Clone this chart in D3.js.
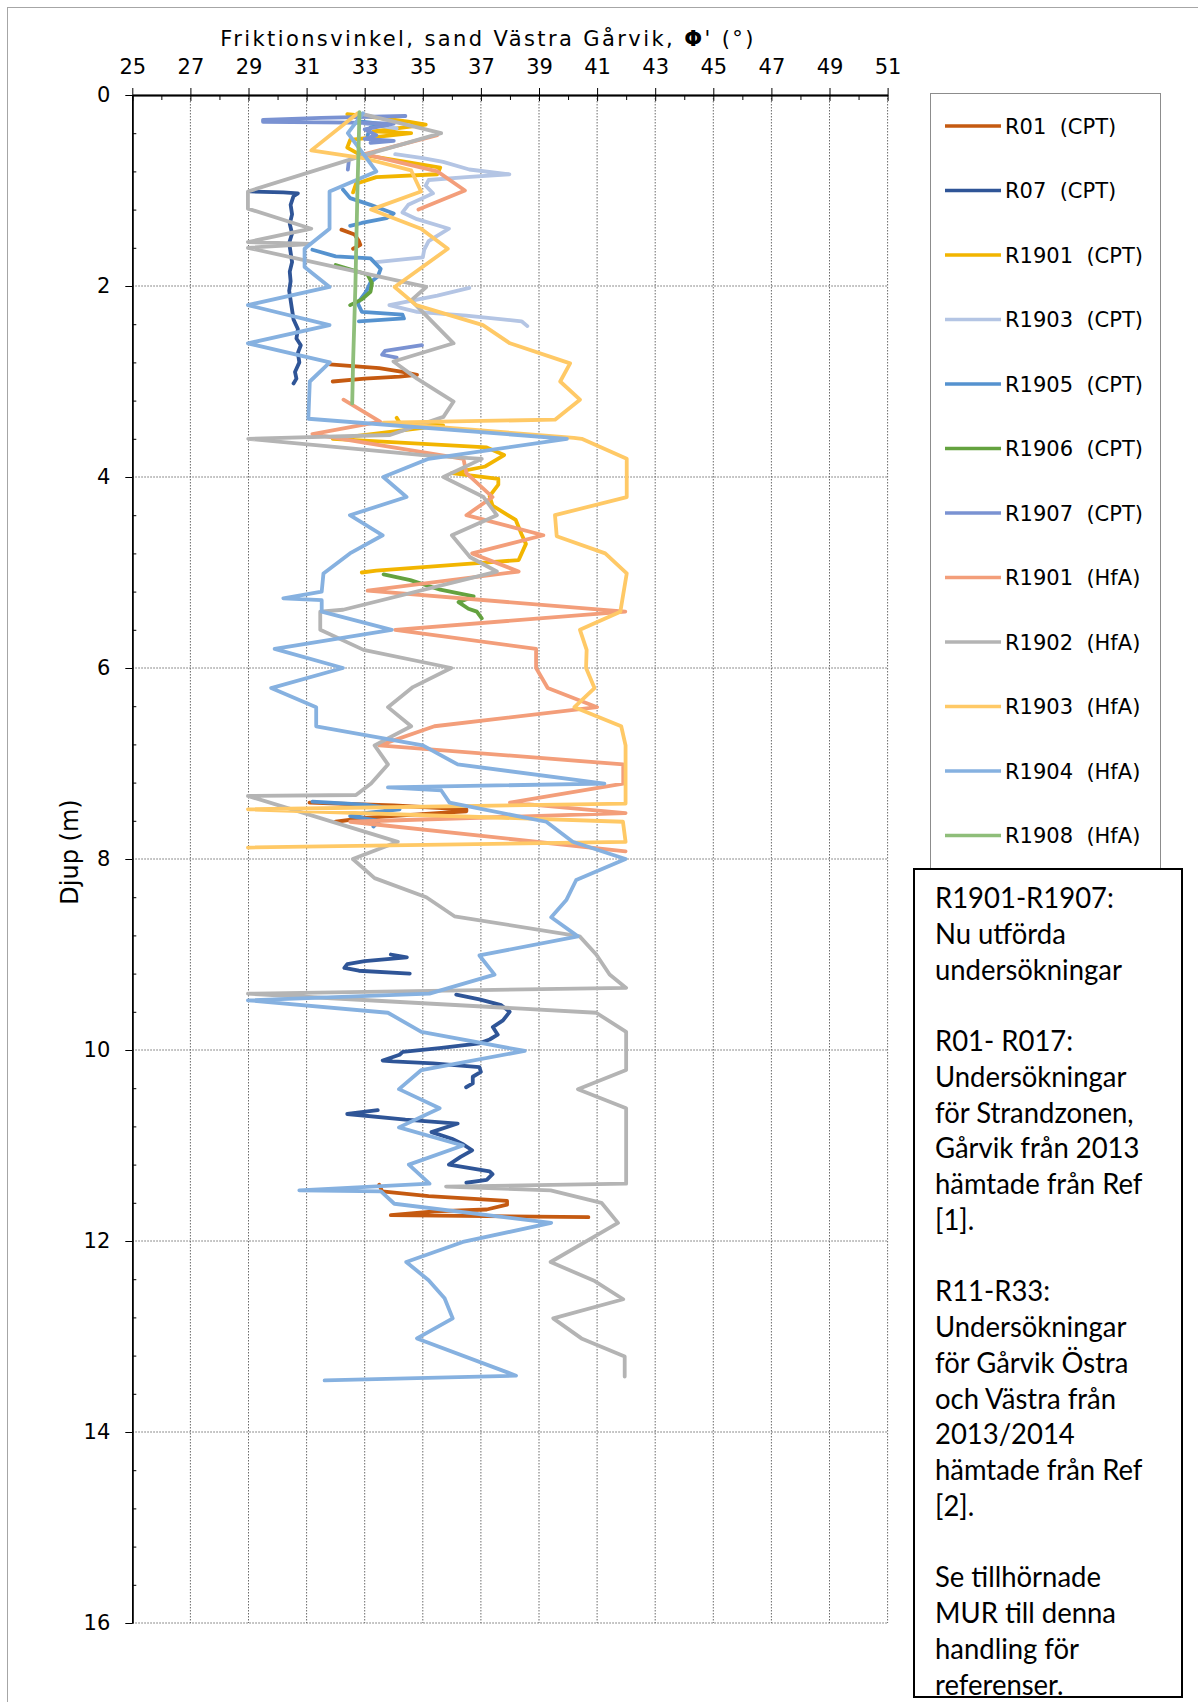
<!DOCTYPE html>
<html>
<head>
<meta charset="utf-8">
<script src="https://cdn.jsdelivr.net/npm/d3@7"></script>
<style>
  body { margin: 0; background: #fff; }
  svg { display: block; }
</style>
</head>
<body>
<svg id="chart" width="1198" height="1702"></svg>
<script>
// Friction angle (degrees) vs depth (m) per sounding; null splits a profile into separate runs.
const R01_CPT = [
  [32.2,1.41],[32.65,1.46],[32.8,1.53],[32.85,1.57],[32.6,1.61], null,
  [31.8,2.82],[33.5,2.86],[34.3,2.90],[34.8,2.93],[34.2,2.95],[33.0,2.97],[31.9,3.0], null,
  [31.1,7.41],[34.0,7.44],[36.5,7.48],[36.5,7.50],[35.5,7.52],[33.0,7.57],[32.0,7.61], null,
  [33.5,11.41],[33.6,11.48],[35.2,11.53],[37.9,11.58],[37.9,11.62],[37.2,11.67],[35.4,11.69],[33.9,11.73],[40.7,11.75]
];
const R07_CPT = [
  [29.05,1.01],[30.2,1.02],[30.7,1.03],[30.55,1.06],[30.45,1.15],[30.5,1.25],[30.42,1.35],[30.5,1.45],
  [30.4,1.55],[30.45,1.65],[30.5,1.75],[30.42,1.85],[30.45,1.95],[30.4,2.05],[30.45,2.15],[30.5,2.25],
  [30.55,2.35],[30.7,2.45],[30.65,2.55],[30.8,2.62],[30.7,2.7],[30.75,2.8],[30.6,2.9],[30.65,2.97],[30.55,3.02], null,
  [33.9,9.0],[34.45,9.03],[33.0,9.07],[32.4,9.1],[32.3,9.14],[32.8,9.17],[34.55,9.2], null,
  [36.15,9.42],[36.95,9.47],[37.7,9.53],[37.99,9.6],[37.76,9.69],[37.41,9.76],[37.58,9.84],[37.3,9.89],
  [36.95,9.93],[35.57,9.98],[34.31,10.02],[34.2,10.05],[33.62,10.11],[33.97,10.12],[35.35,10.14],
  [36.95,10.18],[37.0,10.23],[36.72,10.28],[36.72,10.35],[36.49,10.39], null,
  [33.45,10.63],[32.4,10.67],[34.4,10.73],[36.2,10.77],[35.3,10.86],[36.0,10.93],[36.4,10.99],[36.7,11.05],
  [36.3,11.12],[35.9,11.2],[37.3,11.27],[37.4,11.3],[37.2,11.36],[36.5,11.39]
];
const R1901_CPT = [
  [32.4,0.20],[33.0,0.22],[34.5,0.28],[35.1,0.31],[33.3,0.38],[34.6,0.40],[32.5,0.47],[32.4,0.55],
  [32.8,0.62],[34.0,0.68],[35.6,0.76],[35.5,0.83],[33.4,0.86],[32.7,0.93],[32.6,1.02], null,
  [34.1,3.38],[34.2,3.43],[35.7,3.46],[31.9,3.60],[37.2,3.69],[37.8,3.77],[37.15,3.89],[36.0,3.96],
  [37.6,4.02],[37.6,4.08],[37.3,4.20],[37.4,4.30],[38.2,4.45],[38.4,4.60],[38.55,4.70],[38.3,4.87],
  [37.0,4.90],[33.4,4.98],[32.9,5.0]
];
const R1903_CPT = [
  [33.0,0.30],[34.1,0.35], null,
  [34.05,0.62],[35.0,0.66],[35.7,0.70],[36.6,0.78],[37.98,0.83],[36.5,0.86],[35.2,0.89],[35.1,0.95],
  [35.35,1.03],[34.5,1.15],[34.3,1.23],[34.8,1.30],[35.9,1.40],[35.2,1.53],[35.05,1.62],[35.0,1.70],[33.4,1.75], null,
  [36.6,2.02],[35.5,2.10],[33.85,2.20],[34.8,2.27],[36.5,2.31],[38.4,2.37],[38.6,2.42]
];
const R1905_CPT = [
  [32.9,0.28],[33.8,0.31],[33.2,0.34],[33.1,0.42], null,
  [32.25,0.99],[32.5,1.08],[33.2,1.15],[34.0,1.24],[33.75,1.29],[32.9,1.34],[32.5,1.37], null,
  [31.2,1.62],[32.0,1.69],[33.2,1.71],[33.55,1.82],[33.45,1.90],[33.2,1.96],[33.05,2.06],[32.76,2.18],
  [32.9,2.27],[34.3,2.30],[34.35,2.34],[32.8,2.37], null,
  [31.2,7.40],[33.0,7.43],[34.2,7.48],[33.0,7.52],[32.5,7.55],[33.5,7.60],[33.3,7.66]
];
const R1906_CPT = [
  [32.0,1.78],[33.1,1.88],[33.25,1.97],[33.2,2.06],[32.9,2.14],[32.5,2.20], null,
  [33.65,5.02],[34.57,5.08],[35.6,5.18],[36.75,5.25],[36.23,5.31],[36.57,5.38],[36.86,5.41],[37.03,5.48]
];
const R1907_CPT = [
  [34.4,0.22],[31.5,0.24],[29.5,0.26],[29.5,0.28],[32.5,0.29],[34.0,0.30],[33.0,0.36],[33.4,0.42],
  [33.0,0.46],[34.0,0.48],[33.2,0.50], null,
  [32.45,0.70],[32.42,0.78], null,
  [34.97,2.62],[33.7,2.68],[33.6,2.72],[34.1,2.75]
];
const R1901_HfA = [
  [35.5,0.42],[33.0,0.62],[35.5,0.80],[36.45,1.0],[34.85,1.2], null,
  [32.27,3.19],[33.53,3.42],[31.2,3.55],[36.4,3.81],[36.5,3.96],[37.4,4.21],[36.5,4.40],[39.15,4.61],
  [36.7,4.80],[38.3,4.99],[33.1,5.19],[41.97,5.41],[34.05,5.60],[38.9,5.80],[38.9,6.0],[39.3,6.21],
  [41.0,6.41],[35.4,6.61],[33.5,6.81],[41.9,7.01],[41.9,7.21],[38.0,7.41],[41.98,7.52],[32.5,7.61],[41.98,7.92]
];
const R1902_HfA = [
  [32.94,0.2],[35.63,0.40],[32.99,0.63],[28.98,1.01],[28.98,1.19],[31.16,1.40],[28.98,1.54],[31.1,1.56],
  [28.98,1.6],[35.12,2.01],[34.6,2.15],[36.06,2.60],[33.99,2.79],[34.8,2.97],[36.06,3.21],[35.71,3.37],
  [33.87,3.56],[28.99,3.60],[35.0,3.77],[37.03,3.81],[35.71,4.0],[37.09,4.21],[37.55,4.40],[36.0,4.61],
  [36.63,4.84],[37.55,4.99],[32.26,5.39],[31.47,5.41],[31.47,5.60],[32.96,5.81],[35.98,6.0],[34.66,6.2],
  [33.8,6.41],[34.6,6.61],[33.34,6.81],[33.8,7.01],[33.22,7.21],[32.7,7.33],[28.98,7.34],[34.14,7.82],
  [32.59,8.0],[33.34,8.2],[35.12,8.40],[36.09,8.6],[40.4,8.81],[40.97,9.0],[41.43,9.21],[42.0,9.35],
  [28.98,9.41],[40.97,9.61],[42.0,9.81],[42.0,10.21],[40.34,10.41],[42.0,10.61],[42.0,11.40],[35.8,11.43],
  [39.4,11.47],[41.15,11.6],[41.72,11.81],[39.4,12.22],[40.92,12.42],[41.9,12.61],[39.49,12.81],
  [40.46,13.02],[41.95,13.21],[41.95,13.42]
];
const R1903_HfA = [
  [32.76,0.19],[31.16,0.58],[32.94,0.66],[34.6,0.79],[34.94,1.01],[33.22,1.20],[34.94,1.40],[35.86,1.61],
  [34.03,2.01],[34.77,2.2],[37.07,2.41],[38.0,2.6],[40.07,2.81],[39.73,3.0],[40.41,3.19],[39.55,3.40],
  [33.65,3.43],[40.2,3.59],[40.47,3.6],[42.02,3.81],[42.02,4.21],[39.55,4.40],[39.61,4.62],[41.28,4.80],
  [42.02,5.01],[41.8,5.41],[40.41,5.60],[40.64,5.81],[40.62,6.0],[40.91,6.21],[40.22,6.41],[41.83,6.61],
  [41.98,6.81],[41.98,7.42],[28.98,7.48],[41.89,7.61],[41.98,7.82],[28.98,7.88]
];
const R1904_HfA = [
  [32.94,0.19],[32.42,0.40],[33.4,0.80],[31.79,1.01],[31.79,1.40],[30.93,1.61],[30.93,1.80],[31.79,2.01],
  [28.98,2.2],[31.79,2.41],[28.98,2.60],[31.8,2.80],[31.11,3.0],[31.06,3.39],[39.96,3.6],[35.2,3.81],
  [33.64,4.0],[34.44,4.21],[32.49,4.40],[33.62,4.61],[32.49,4.80],[31.58,5.01],[31.52,5.20],[30.2,5.27],
  [31.52,5.29],[31.52,5.41],[33.93,5.60],[29.9,5.8],[32.25,6.0],[29.78,6.21],[31.33,6.41],[31.33,6.61],
  [35.0,6.81],[36.2,7.01],[41.25,7.21],[33.8,7.25],[35.63,7.28],[35.92,7.41],[39.25,7.61],[40.16,7.82],
  [41.98,8.0],[40.28,8.22],[39.94,8.43],[39.42,8.61],[40.34,8.81],[36.95,9.01],[37.47,9.21],[35.23,9.41],
  [28.98,9.48],[33.8,9.61],[34.95,9.81],[38.51,10.01],[34.95,10.21],[34.18,10.41],[35.58,10.61],
  [34.18,10.81],[36.38,11.0],[34.52,11.2],[35.23,11.4],[30.75,11.47],[33.56,11.48],[34.02,11.61],
  [39.42,11.81],[36.38,12.01],[34.43,12.22],[35.2,12.41],[35.75,12.6],[36.03,12.81],[34.8,13.02],
  [38.21,13.41],[31.62,13.46]
];
const R1908_HfA = [
  [32.82,0.18],[32.75,1.0],[32.68,2.0],[32.6,2.8],[32.57,3.23]
];

// Legend labels, in drawing order
const seriesNames = [
  "R01  (CPT)", "R07  (CPT)", "R1901  (CPT)", "R1903  (CPT)", "R1905  (CPT)", "R1906  (CPT)",
  "R1907  (CPT)", "R1901  (HfA)", "R1902  (HfA)", "R1903  (HfA)", "R1904  (HfA)", "R1908  (HfA)"
];
const seriesData = [
  R01_CPT, R07_CPT, R1901_CPT, R1903_CPT, R1905_CPT, R1906_CPT,
  R1907_CPT, R1901_HfA, R1902_HfA, R1903_HfA, R1904_HfA, R1908_HfA
];
const seriesColors = [
  "#C55A11", "#2F5597", "#F2B500", "#B4C5E4", "#5592CF", "#64A23F",
  "#7A92D2", "#F39E7A", "#B4B4B4", "#FFC966", "#86B1E0", "#8FBE7A"
];

const phiTicks = d3.range(25, 52, 2);          // labelled angle ticks
const phiMinor = d3.range(26, 51, 2);          // unlabelled angle ticks
const depthTicks = d3.range(0, 17, 2);         // labelled depth ticks
const depthMinor = d3.range(0, 16.01, 0.4).filter(v => Math.abs(v / 2 - Math.round(v / 2)) > 1e-6);

const noteLines = [
  "R1901-R1907:", "Nu utförda", "undersökningar", "",
  "R01- R017:", "Undersökningar", "för Strandzonen,", "Gårvik från 2013", "hämtade från Ref", "[1].", "",
  "R11-R33:", "Undersökningar", "för Gårvik Östra", "och Västra från", "2013/2014", "hämtade från Ref", "[2].", "",
  "Se tillhörnade", "MUR till denna", "handling för", "referenser."
];

const svg = d3.select("#chart");
const axisFont = "DejaVu Sans, Verdana, sans-serif";

// Outer chart frame
svg.append("rect")
  .attr("x", 7.5).attr("y", 7.5).attr("width", 1400).attr("height", 1800)
  .attr("fill", "#fff").attr("stroke", "#A6A6A6").attr("stroke-width", 1);

const x = d3.scaleLinear().domain([25, 51]).range([132.3, 887.6]);
const y = d3.scaleLinear().domain([0, 16]).range([95, 1623]);

// Dotted grid
const grid = svg.append("g").attr("stroke", "#6b6b6b").attr("stroke-width", 1)
  .attr("stroke-dasharray", "1.5,1.5");
grid.selectAll("line.v").data(phiTicks.slice(1)).join("line").attr("class", "v")
  .attr("x1", d => x(d)).attr("x2", d => x(d)).attr("y1", y(0)).attr("y2", y(16));
grid.selectAll("line.h").data(depthTicks.slice(1)).join("line").attr("class", "h")
  .attr("x1", x(25)).attr("x2", x(51)).attr("y1", d => y(d)).attr("y2", d => y(d));

// Top angle axis
svg.append("g").attr("transform", `translate(0,${y(0)})`)
  .call(d3.axisTop(x).tickValues(phiTicks).tickSize(7).tickSizeOuter(0).tickPadding(14));
svg.append("g").attr("transform", `translate(0,${y(0)})`)
  .call(d3.axisTop(x).tickValues(phiTicks).tickSize(-6).tickSizeOuter(0).tickFormat(""));
svg.append("g").attr("transform", `translate(0,${y(0)})`)
  .call(d3.axisTop(x).tickValues(phiMinor).tickSize(-5).tickSizeOuter(0).tickFormat(""));

// Left depth axis
svg.append("g").attr("transform", `translate(${x(25)},0)`)
  .call(d3.axisLeft(y).tickValues(depthTicks).tickSize(7).tickSizeOuter(0).tickPadding(15));
svg.append("g").attr("transform", `translate(${x(25)},0)`)
  .call(d3.axisLeft(y).tickValues(depthMinor).tickSize(-4).tickSizeOuter(0).tickFormat(""));

svg.selectAll(".domain").attr("stroke", "#000").attr("stroke-width", 1.5);
svg.selectAll(".tick line").attr("stroke", "#000").attr("stroke-width", 1);
svg.selectAll(".tick text").attr("font-family", axisFont).attr("font-size", 21).attr("fill", "#000");

// Axis titles
const title = svg.append("text")
  .attr("x", 488).attr("y", 46).attr("text-anchor", "middle")
  .attr("font-family", axisFont).attr("font-size", 21).attr("letter-spacing", 2.4)
  .attr("fill", "#000");
title.append("tspan").text("Friktionsvinkel, sand Västra Gårvik, ");
title.append("tspan").attr("font-weight", "bold").text("Φ");
title.append("tspan").text("' (°)");

svg.append("text")
  .attr("transform", "translate(78,852) rotate(-90)")
  .attr("text-anchor", "middle")
  .attr("font-family", axisFont).attr("font-size", 24).attr("fill", "#000")
  .text("Djup (m)");

// Profiles
const line = d3.line()
  .defined(d => d !== null)
  .x(d => x(d[0]))
  .y(d => y(d[1]));

svg.append("g").attr("fill", "none")
  .attr("stroke-linecap", "round").attr("stroke-linejoin", "round")
  .selectAll("path").data(seriesData).join("path")
  .attr("d", d => line(d))
  .attr("stroke", (d, i) => seriesColors[i])
  .attr("stroke-width", 3.8);

// Legend
svg.append("rect")
  .attr("x", 930.5).attr("y", 93.5).attr("width", 230).attr("height", 800)
  .attr("fill", "#fff").attr("stroke", "#8c8c8c").attr("stroke-width", 1);
const legendY = d3.scalePoint().domain(seriesNames).range([126, 835.5]);
const legend = svg.append("g").selectAll("g").data(seriesNames).join("g")
  .attr("transform", d => `translate(0,${legendY(d)})`);
legend.append("line")
  .attr("x1", 945).attr("x2", 1001).attr("y1", 0).attr("y2", 0)
  .attr("stroke", (d, i) => seriesColors[i]).attr("stroke-width", 3.6);
legend.append("text")
  .attr("x", 1005).attr("y", 0).attr("dy", "0.36em")
  .attr("font-family", axisFont).attr("font-size", 21).attr("fill", "#000")
  .style("white-space", "pre")
  .text(d => d);

// Notes box
svg.append("rect")
  .attr("x", 914).attr("y", 869).attr("width", 268).attr("height", 828)
  .attr("fill", "#fff").attr("stroke", "#000").attr("stroke-width", 2);
const notes = svg.append("g");
const noteText = notes.append("text")
  .attr("font-family", "Lato, 'Open Sans', sans-serif").attr("font-size", 29).attr("fill", "#000");
noteText.selectAll("tspan").data(noteLines).join("tspan")
  .attr("x", 935).attr("y", (d, i) => 898 + 35.75 * i).attr("dy", "0.35em")
  .text(d => d || " ");
// condense the note text horizontally so the longest word fits the box like the printed sheet
const probe = notes.append("text")
  .attr("font-family", "Lato, 'Open Sans', sans-serif").attr("font-size", 29)
  .text("undersökningar");
const squeeze = 187 / probe.node().getComputedTextLength();
probe.remove();
noteText.attr("transform", `translate(935,0) scale(${squeeze},1) translate(-935,0)`);
</script>
</body>
</html>
